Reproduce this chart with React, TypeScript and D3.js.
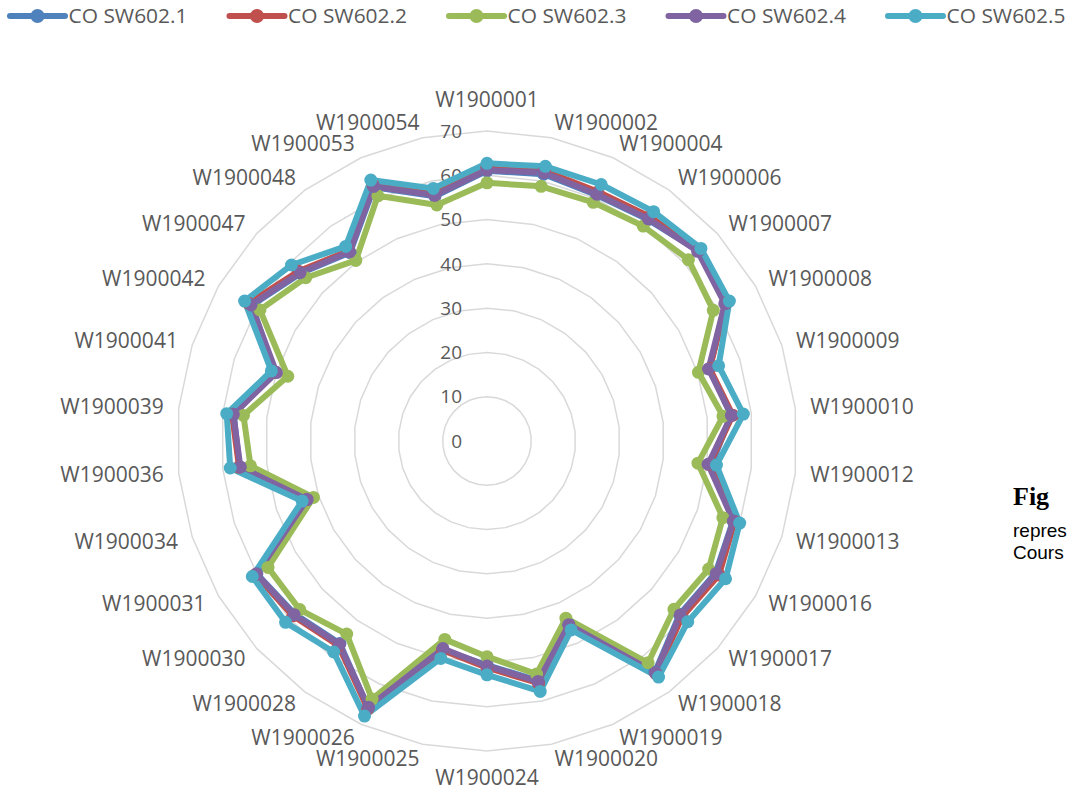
import React from "react";
import * as d3 from "d3";

const categories = [
  "W1900001", "W1900002", "W1900004", "W1900006", "W1900007", "W1900008",
  "W1900009", "W1900010", "W1900012", "W1900013", "W1900016", "W1900017",
  "W1900018", "W1900019", "W1900020", "W1900024", "W1900025", "W1900026",
  "W1900028", "W1900030", "W1900031", "W1900034", "W1900036", "W1900039",
  "W1900041", "W1900042", "W1900047", "W1900048", "W1900053", "W1900054",
];

const seriesNames = ["CO SW602.1", "CO SW602.2", "CO SW602.3", "CO SW602.4", "CO SW602.5"];
const seriesColors = ["#4F81BD", "#C0504D", "#9BBB59", "#8064A2", "#4BACC6"];

const co1 = [61.0, 61.6, 60.8, 61.8, 64.2, 62.4, 52.8, 55.4, 51.0, 58.4, 59.6, 58.5, 64.5, 45.2, 55.3, 50.6, 48.2, 66.0, 56.5, 58.4, 60.0, 42.6, 56.2, 57.5, 50.4, 61.3, 56.6, 52.6, 62.7, 56.5];
const co2 = [61.8, 62.4, 61.6, 62.6, 64.3, 62.3, 52.9, 55.8, 50.5, 58.8, 60.5, 59.3, 65.0, 45.6, 55.9, 51.2, 48.3, 66.2, 57.1, 59.0, 60.4, 42.9, 56.3, 57.9, 50.3, 62.2, 57.3, 53.1, 63.3, 57.2];
const co3 = [58.3, 58.8, 59.0, 60.0, 61.2, 59.0, 50.2, 53.6, 47.9, 56.0, 57.8, 56.8, 61.9, 43.8, 53.8, 48.7, 45.8, 63.8, 53.9, 56.9, 57.1, 41.2, 53.7, 55.3, 47.3, 59.2, 55.1, 50.4, 60.6, 54.5];
const co4 = [61.2, 61.9, 61.0, 62.0, 64.0, 62.0, 52.6, 55.5, 50.2, 58.5, 59.8, 58.7, 64.7, 45.4, 55.5, 50.8, 47.9, 65.8, 56.7, 58.6, 60.1, 42.7, 56.0, 57.6, 50.0, 61.5, 56.8, 52.8, 62.9, 56.7];
const co5 = [62.7, 63.4, 63.4, 64.0, 65.0, 63.2, 55.0, 58.2, 52.1, 60.0, 62.2, 61.0, 65.9, 46.7, 57.8, 52.8, 50.2, 68.0, 58.9, 61.2, 61.2, 43.9, 58.3, 59.1, 51.2, 63.2, 59.4, 54.3, 64.5, 58.3];

const seriesValues = [co1, co2, co3, co4, co5];
const tickValues = [0, 10, 20, 30, 40, 50, 60, 70];

const W = 1073;
const H = 792;
const cx = 487;
const cy = 441;
const R = 310;
const FONT = "'Open Sans', 'Liberation Sans', sans-serif";
const TEXT_COLOR = "#595959";

export default function App() {
  const r = d3.scaleLinear().domain([0, 70]).range([0, R]);
  const angle = d3
    .scaleLinear()
    .domain([0, categories.length])
    .range([0, 2 * Math.PI]);

  const radial = d3
    .lineRadial<number>()
    .angle((_, i) => angle(i))
    .radius((d) => r(d))
    .curve(d3.curveLinearClosed);

  const ringPath = (v: number) => radial(categories.map(() => v)) || "";

  const pt = (i: number, v: number) => {
    const a = angle(i);
    return [cx + r(v) * Math.sin(a), cy - r(v) * Math.cos(a)];
  };

  const legendX = [10, 229.5, 449, 668.5, 888];

  return (
    <svg
      width={W}
      height={H}
      style={{ position: "absolute", left: 0, top: 0, background: "#fff" }}
      fontFamily={FONT}
    >
      <rect x={0} y={0} width={W} height={H} fill="#fff" />
      {/* legend */}
      {seriesNames.map((name, k) => (
        <g key={name}>
          <line
            x1={legendX[k]}
            x2={legendX[k] + 55}
            y1={16}
            y2={16}
            stroke={seriesColors[k]}
            strokeWidth={6}
            strokeLinecap="round"
          />
          <circle cx={legendX[k] + 27.5} cy={16} r={7} fill={seriesColors[k]} />
          <text
            x={legendX[k] + 58.5}
            y={16}
            dy="0.35em"
            fontSize={20}
            fill={TEXT_COLOR}
            textLength={119}
            lengthAdjust="spacingAndGlyphs"
          >
            {name}
          </text>
        </g>
      ))}

      {/* grid rings */}
      <g transform={`translate(${cx},${cy})`}>
        {tickValues
          .filter((v) => v > 0)
          .map((v) => (
            <path key={v} d={ringPath(v)} fill="none" stroke="#d9d9d9" strokeWidth={1.5} />
          ))}
      </g>

      {/* tick labels */}
      {tickValues.map((v) => (
        <text
          key={v}
          x={462}
          y={cy - r(v)}
          dy="0.35em"
          textAnchor="end"
          fontSize={19}
          fill={TEXT_COLOR}
        >
          {v}
        </text>
      ))}

      {/* category labels */}
      {categories.map((c, i) => {
        const a = angle(i);
        const s = Math.sin(a);
        const co = Math.cos(a);
        let anchor: "start" | "middle" | "end" = "middle";
        if (s > 0.05) anchor = "start";
        else if (s < -0.05) anchor = "end";
        let x = cx + 325 * s;
        let y = cy - 325 * co;
        if (anchor === "middle") {
          x = cx;
          y = co > 0 ? cy - 341 : cy + 337;
        }
        return (
          <text
            key={c}
            x={x}
            y={y}
            dy="0.35em"
            textAnchor={anchor}
            fontSize={21}
            fill={TEXT_COLOR}
          >
            {c}
          </text>
        );
      })}

      {/* series */}
      <g transform={`translate(${cx},${cy})`}>
        {seriesValues.map((vals, k) => (
          <path
            key={seriesNames[k]}
            d={radial(vals) || ""}
            fill="none"
            stroke={seriesColors[k]}
            strokeWidth={6}
            strokeLinejoin="round"
          />
        ))}
      </g>
      {seriesValues.map((vals, k) => (
        <g key={"m" + k}>
          {vals.map((v, i) => {
            const [x, y] = pt(i, v);
            return <circle key={i} cx={x} cy={y} r={6.5} fill={seriesColors[k]} />;
          })}
        </g>
      ))}

      {/* cut-off caption */}
      <text x={1013} y={505} fontFamily="'Liberation Serif', serif" fontWeight="bold" fontSize={26} fill="#000">
        Fig
      </text>
      <text x={1013} y={537} fontFamily="'Liberation Sans', Arial, sans-serif" fontSize={19} fill="#000">
        repres
      </text>
      <text x={1013} y={559} fontFamily="'Liberation Sans', Arial, sans-serif" fontSize={19} fill="#000">
        Cours
      </text>
    </svg>
  );
}
